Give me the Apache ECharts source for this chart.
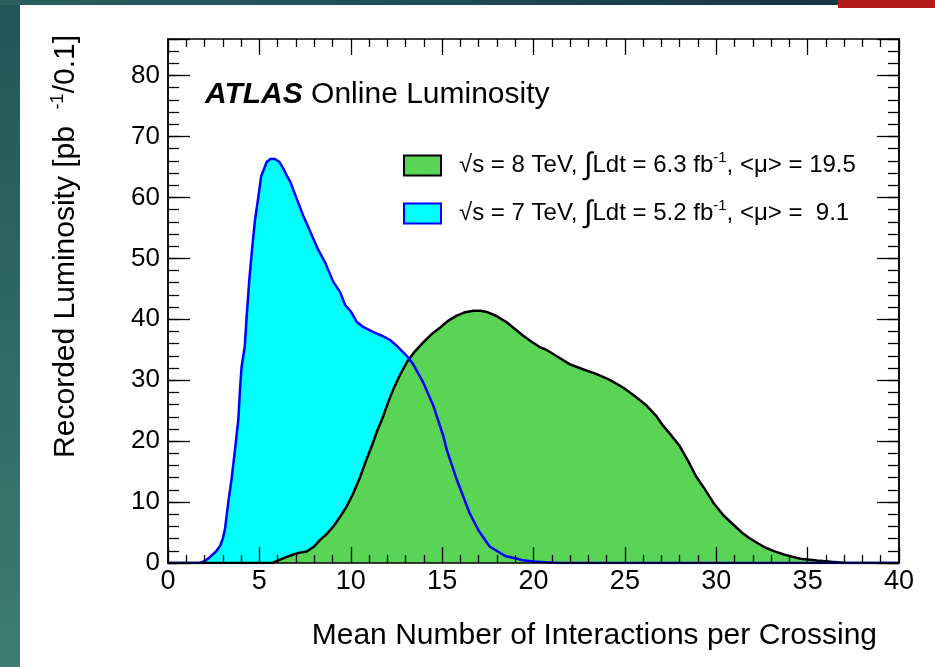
<!DOCTYPE html>
<html><head><meta charset="utf-8">
<script src="https://cdn.jsdelivr.net/npm/echarts@6/dist/echarts.min.js"></script>
<style>
html,body{margin:0;padding:0;background:#fff;}
#wrap{position:relative;width:935px;height:667px;overflow:hidden;background:#fff;}
#bandL{position:absolute;left:0;top:0;width:20px;height:667px;background:linear-gradient(to bottom,#22555a,#3f7c71);}
#bandT{position:absolute;left:0;top:0;width:935px;height:5px;background:linear-gradient(to right,#2a5e5f,#1f4a58 50%,#143447 88%);}
#bandR{position:absolute;left:838px;top:0;width:97px;height:8px;background:#b51a1a;}
#chart{position:absolute;left:0;top:0;width:935px;height:667px;}
</style></head>
<body><div id="wrap"><div id="bandL"></div><div id="bandT"></div><div id="bandR"></div><div id="chart"></div></div>
<script>
// 7 TeV (2011) histogram
const mu7 = [0, 1.7, 2.0, 2.3, 2.6, 2.85, 3.0, 3.12, 3.3, 3.48, 3.67, 3.85, 3.94, 4.03, 4.2, 4.3, 4.45, 4.6, 4.76, 4.94, 5.1, 5.4, 5.6, 5.85, 6.1, 6.3, 6.53, 6.7, 7.04, 7.4, 7.8, 8.2, 8.6, 9.05, 9.41, 9.7, 10.0, 10.32, 10.7, 11.24, 11.7, 12.15, 12.6, 13.06, 13.42, 13.97, 14.52, 15.07, 15.25, 15.8, 16.5, 17.0, 17.6, 18.2, 18.5, 19.1, 19.4, 20.0, 20.9, 21.5, 40];
const lumi7 = [0, 0, 0.3, 1.0, 1.8, 2.8, 4.0, 5.6, 10, 13.8, 18.7, 23.6, 28.5, 32.3, 35.5, 40.3, 46.5, 51.5, 56.3, 60.0, 63.5, 65.8, 66.3, 66.3, 65.8, 64.8, 63.4, 62.5, 59.8, 57.0, 54.3, 51.5, 49.3, 46.1, 44.5, 42.3, 41.3, 39.6, 38.7, 37.9, 37.3, 36.6, 35.4, 34.0, 32.6, 29.6, 25.8, 20.8, 18.6, 13.7, 8.2, 5.3, 2.7, 1.6, 1.1, 0.7, 0.45, 0.25, 0.1, 0, 0];
// 8 TeV (2012) histogram
const mu8 = [0, 5.7, 6.1, 6.5, 6.86, 7.2, 7.59, 8.0, 8.32, 8.7, 9.05, 9.4, 9.78, 10.1, 10.5, 10.8, 11.15, 11.45, 11.78, 12.05, 12.33, 12.7, 13.06, 13.5, 13.97, 14.4, 14.88, 15.3, 15.8, 16.2, 16.7, 17.1, 17.44, 18.0, 18.53, 18.9, 19.44, 19.9, 20.36, 20.7, 21.3, 22.0, 22.7, 23.46, 24.2, 24.9, 25.5, 26.2, 26.7, 27.1, 27.55, 28.0, 28.45, 28.9, 29.4, 29.84, 30.4, 30.9, 31.4, 31.8, 32.3, 32.7, 33.2, 33.7, 34.2, 34.6, 35.5, 36.3, 36.8, 37.2, 40];
const lumi8 = [0, 0, 0.5, 1.0, 1.4, 1.7, 1.9, 2.7, 3.8, 4.8, 6.0, 7.5, 9.3, 11.2, 14.0, 16.5, 19.2, 21.7, 24.1, 26.4, 28.5, 30.9, 32.9, 34.7, 36.2, 37.5, 38.6, 39.7, 40.6, 41.1, 41.4, 41.4, 41.2, 40.5, 39.5, 38.6, 37.3, 36.3, 35.4, 35.0, 33.9, 32.6, 31.8, 31.0, 30.0, 28.8, 27.5, 25.8, 24.2, 22.5, 20.9, 19.2, 16.8, 14.2, 12.0, 9.9, 7.8, 6.4, 5.0, 4.1, 3.2, 2.5, 1.9, 1.4, 1.0, 0.7, 0.4, 0.2, 0.1, 0, 0];

const seriesNames = ['8TeV', '7TeV'];
const legendLabels = [
  '{t|√s = 8 TeV, }{i|∫}{t|Ldt = 6.3 fb}{s|-1}{t|, <μ> = 19.5}',
  '{t|√s = 7 TeV, }{i|∫}{t|Ldt = 5.2 fb}{s|-1}{t|, <μ> =  9.1}'
];
const xRange = [0, 40], xMajor = 5, xMinorSplit = 5;
const yRange = [0, 86], yMajor = 10, yMinor = 2;
const xTitle = 'Mean Number of Interactions per Crossing';
const yTitle = '{n|Recorded Luminosity [pb  }{s|-1}{n|/0.1]}';
const atlasLabel = '{a|ATLAS}{b| Online Luminosity}';

const FONT = '"Liberation Sans", Arial, Helvetica, sans-serif';
const zip = (xs, ys) => xs.map((x, i) => [x, ys[i]]);
const d7 = zip(mu7, lumi7);
const d8 = zip(mu8, lumi8);

const chart = echarts.init(document.getElementById('chart'), null, {renderer: 'canvas'});

function xAx(pos, showLabel) {
  return {
    type: 'value', position: pos, min: xRange[0], max: xRange[1], interval: xMajor, z: 10,
    axisLine: {show: true, onZero: false, lineStyle: {color: '#000', width: 1.5}},
    axisTick: {show: true, inside: true, length: 16, lineStyle: {color: '#000', width: 1.3}},
    minorTick: {show: true, splitNumber: xMinorSplit, length: 8, lineStyle: {color: '#000', width: 1.3}},
    axisLabel: {show: showLabel, color: '#000', fontSize: 27, fontFamily: FONT, margin: 5},
    splitLine: {show: false}, minorSplitLine: {show: false}
  };
}
function yAx(pos, step, len, showLabel) {
  return {
    type: 'value', position: pos, min: yRange[0], max: yRange[1], interval: step, z: 10,
    axisLine: {show: true, onZero: false, lineStyle: {color: '#000', width: 1.5}},
    axisTick: {show: true, inside: true, length: len, lineStyle: {color: '#000', width: 1.3}},
    axisLabel: {show: showLabel, color: '#000', fontSize: 26, fontFamily: FONT, margin: 8,
      formatter: v => (v % yMajor === 0 ? String(v) : '')},
    splitLine: {show: false}
  };
}

chart.setOption({
  backgroundColor: 'transparent',
  animation: false,
  grid: {left: 168, right: 36, top: 39, bottom: 104, show: false},
  xAxis: [xAx('bottom', true), xAx('top', false)],
  yAxis: [yAx('left', yMinor, 11, true), yAx('right', yMinor, 11, false),
          yAx('left', yMajor, 22, false), yAx('right', yMajor, 22, false)],
  legend: {
    left: 398, top: 145, orient: 'vertical', icon: 'rect',
    itemWidth: 37, itemHeight: 20, itemGap: 17, selectedMode: false,
    data: [
      {name: seriesNames[0], itemStyle: {color: '#59d454', borderColor: '#000', borderWidth: 2}},
      {name: seriesNames[1], itemStyle: {color: '#00ffff', borderColor: '#0000ff', borderWidth: 2}}
    ],
    formatter: n => legendLabels[seriesNames.indexOf(n)],
    textStyle: {
      color: '#000', fontFamily: FONT, fontSize: 24, padding: [0, 0, 0, 13],
      rich: {
        t: {fontSize: 24, lineHeight: 30, fontFamily: FONT, color: '#000'},
        i: {fontSize: 31, lineHeight: 30, fontFamily: FONT, color: '#000'},
        s: {fontSize: 15, lineHeight: 18, fontFamily: FONT, color: '#000', verticalAlign: 'top'}
      }
    }
  },
  series: [
    {name: seriesNames[1], type: 'line', xAxisIndex: 0, yAxisIndex: 0, data: d7, symbol: 'none',
     lineStyle: {opacity: 0, width: 0}, areaStyle: {color: '#00ffff', opacity: 1}, silent: true, z: 2},
    {name: seriesNames[0], type: 'line', xAxisIndex: 0, yAxisIndex: 0, data: d8, symbol: 'none',
     lineStyle: {color: '#000', width: 2.5}, areaStyle: {color: '#59d454', opacity: 1}, z: 2},
    {name: seriesNames[1], type: 'line', xAxisIndex: 0, yAxisIndex: 0, data: d7, symbol: 'none',
     lineStyle: {color: '#0000ff', width: 2.5}, z: 2}
  ],
  graphic: [
    {type: 'text', x: 205, y: 95, z: 20,
     style: {text: atlasLabel, align: 'left', verticalAlign: 'middle', fill: '#000',
       rich: {a: {fontSize: 30, fontWeight: 'bold', fontStyle: 'italic', fontFamily: FONT, fill: '#000'},
              b: {fontSize: 30, fontFamily: FONT, fill: '#000'}}}},
    {type: 'text', x: 877, y: 636, z: 20,
     style: {text: xTitle, align: 'right', verticalAlign: 'middle', fontSize: 30, fontFamily: FONT, fill: '#000'}},
    {type: 'text', x: 66, y: 35, rotation: Math.PI / 2, z: 20,
     style: {text: yTitle, align: 'right', verticalAlign: 'middle', fill: '#000',
       rich: {n: {fontSize: 30, lineHeight: 34, fontFamily: FONT, fill: '#000'},
              s: {fontSize: 18, lineHeight: 20, fontFamily: FONT, fill: '#000', verticalAlign: 'top'}}}}
  ]
});
</script></body></html>
